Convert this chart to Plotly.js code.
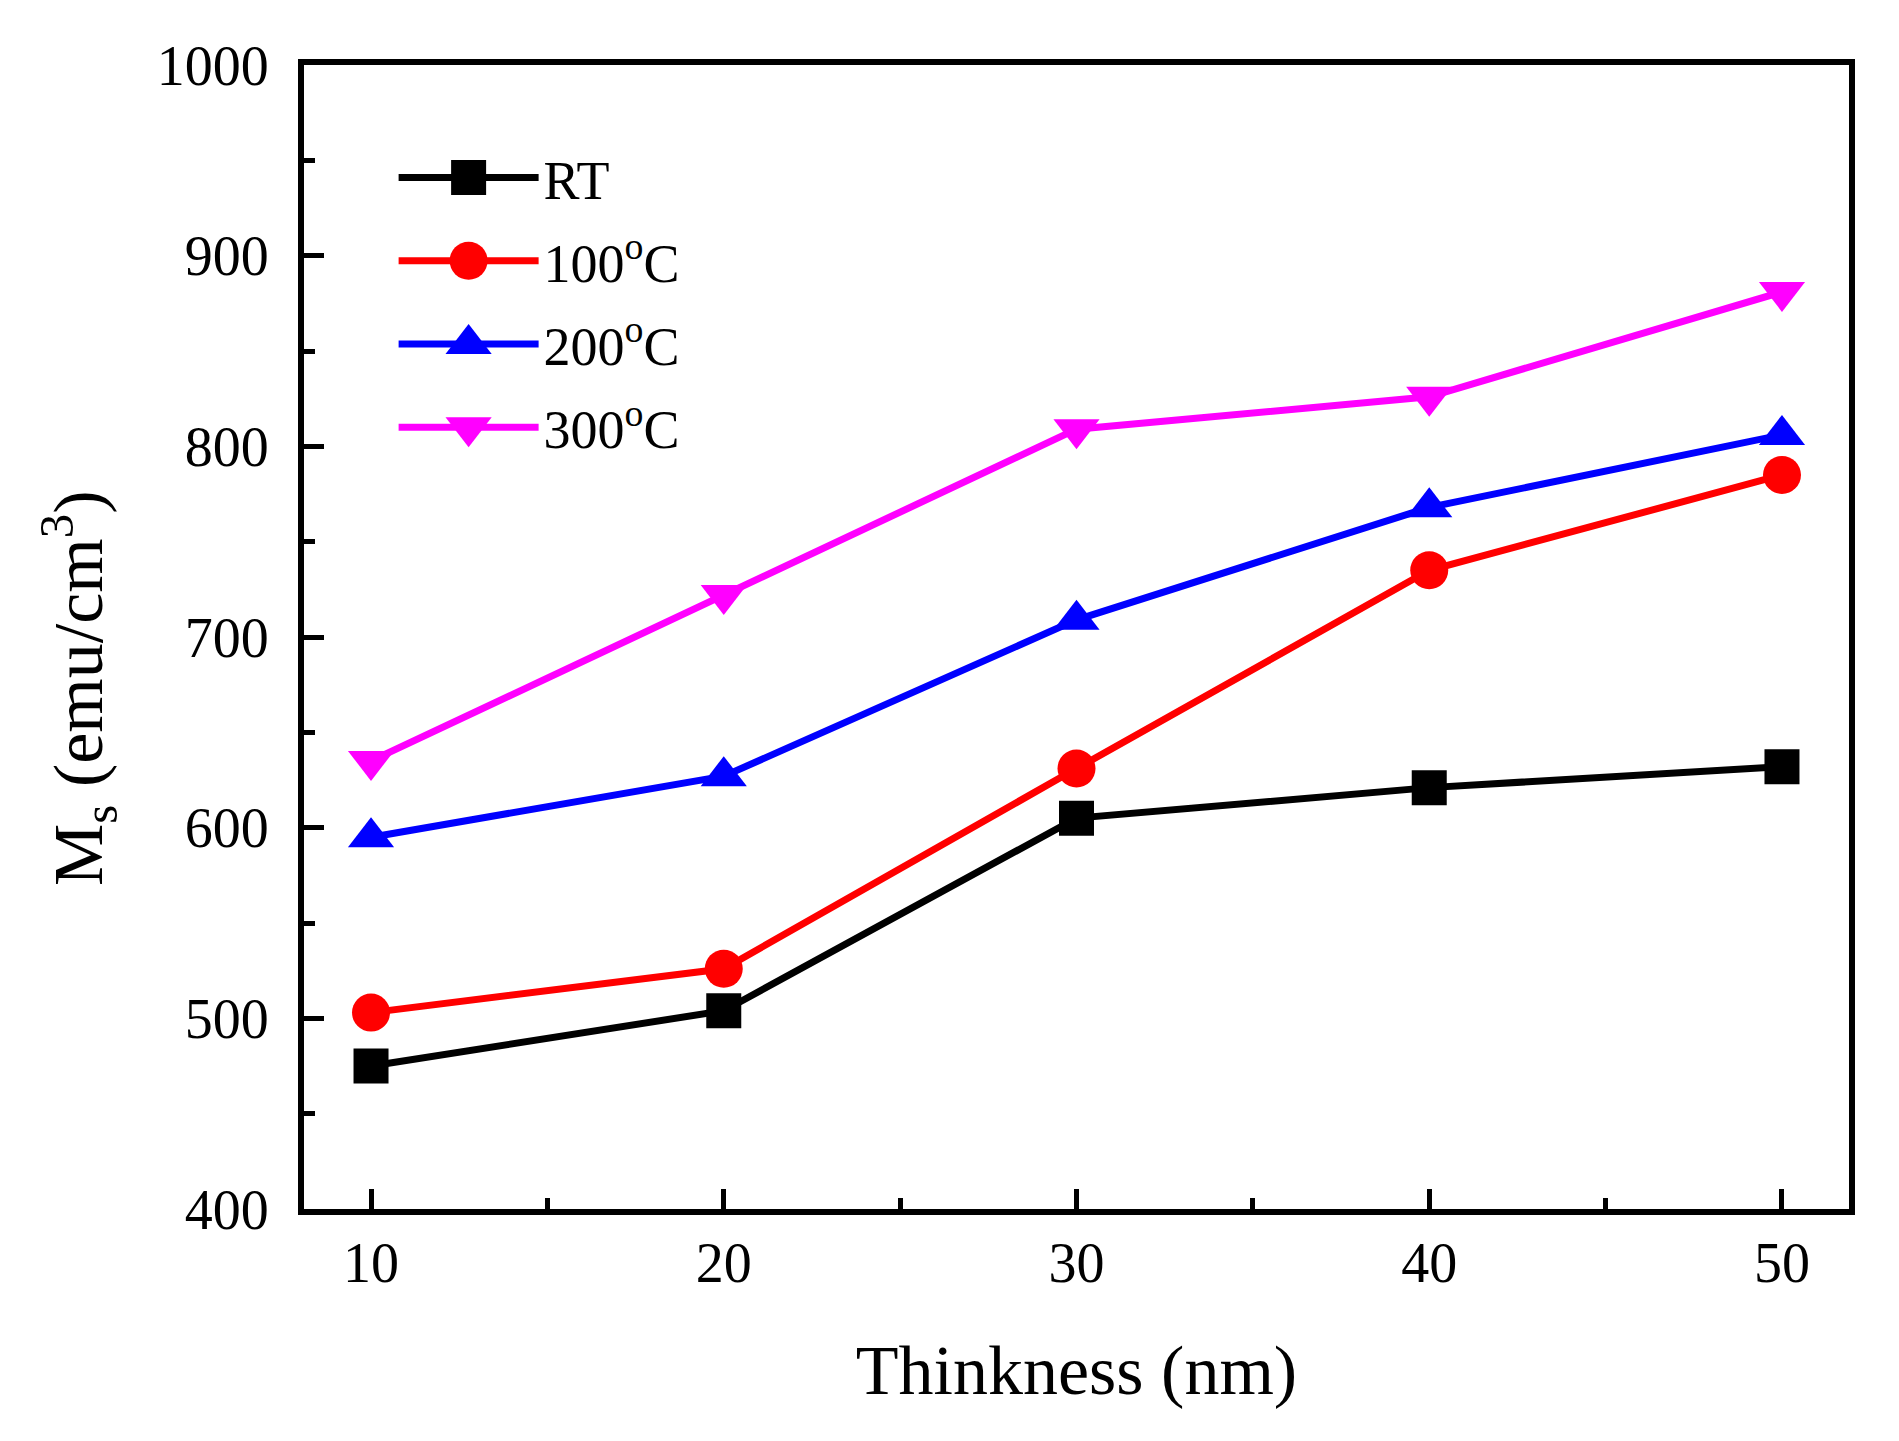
<!DOCTYPE html>
<html>
<head>
<meta charset="utf-8">
<script src="https://cdn.plot.ly/plotly-3.0.1.min.js"></script>
<style>
  html, body { margin: 0; padding: 0; background: #fff; }
  #chart { width: 1899px; height: 1441px; }
</style>
</head>
<body>
<div id="chart"></div>
<script>
// thickness (nm)
var thickness = [10, 20, 30, 40, 50];

// saturation magnetisation Ms (emu/cm3) per annealing temperature
var ms_rt = [475, 504, 605, 621, 632];
var ms_100 = [503, 526, 631, 735, 785];
var ms_200 = [595, 627, 709, 768, 806];
var ms_300 = [635, 722, 809, 826, 881];

var series_names = ['RT', '100<sup>o</sup>C', '200<sup>o</sup>C', '300<sup>o</sup>C'];
var series_values = [ms_rt, ms_100, ms_200, ms_300];
var series_colors = ['#000000', '#ff0000', '#0000ff', '#ff00ff'];
var series_symbols = ['square', 'circle', 'triangle-up', 'triangle-down'];
var series_sizes = [35, 38, 40, 40];

var font_family = '"Liberation Serif", "Times New Roman", serif';

var data = [];
for (i = 0; i < series_names.length; i++) {
    data.push({
        x: thickness,
        y: series_values[i],
        name: series_names[i],
        legendgroup: 'g' + i,
        type: 'scatter',
        mode: 'lines+markers',
        line: {color: series_colors[i], width: 7},
        marker: {
            color: series_colors[i],
            symbol: series_symbols[i],
            size: series_sizes[i],
            line: {width: 0}
        },
    });
}

var layout = {
    width: 1899,
    height: 1441,
    margin: {l: 304, r: 50, t: 65, b: 232, pad: 0},
    paper_bgcolor: '#ffffff',
    plot_bgcolor: '#ffffff',
    font: {family: font_family, color: '#000000', size: 56},
    showlegend: true,
    legend: {
        x: 0.058,
        xanchor: 'left',
        y: 0.938,
        yanchor: 'top',
        bgcolor: 'rgba(0,0,0,0)',
        font: {family: font_family, size: 54, color: '#000000'},
        itemwidth: 140,
        tracegroupgap: 10,
    },
    xaxis: {
        range: [8.1, 51.9],
        tickvals: thickness,
        ticktext: thickness.map(String),
        ticks: 'inside',
        ticklen: 20,
        tickwidth: 5,
        tickcolor: '#000000',
        ticklabelstandoff: 0,
        minor: {dtick: 5, tick0: 5, ticks: 'inside', ticklen: 11, tickwidth: 5, tickcolor: '#000000'},
        showline: true,
        linewidth: 6,
        linecolor: '#000000',
        mirror: true,
        showgrid: false,
        zeroline: false,
        tickfont: {family: font_family, size: 56},
        title: {
            text: 'Thinkness (nm)',
            font: {family: font_family, size: 70},
            standoff: 54
        },
    },
    yaxis: {
        range: [400, 1000],
        dtick: 100,
        tick0: 400,
        ticks: 'inside',
        ticklen: 20,
        tickwidth: 5,
        tickcolor: '#000000',
        ticklabelstandoff: 18,
        minor: {dtick: 50, tick0: 0, ticks: 'inside', ticklen: 11, tickwidth: 5, tickcolor: '#000000'},
        showline: true,
        linewidth: 6,
        linecolor: '#000000',
        mirror: true,
        showgrid: false,
        zeroline: false,
        tickfont: {family: font_family, size: 56},
    },
    annotations: [{
        // y title placed by hand, it sits a little below the middle in the original
        text: 'M<sub>s</sub> (emu/cm<sup>3</sup>)',
        xref: 'paper',
        yref: 'paper',
        x: -0.146,
        y: 0.455,
        xanchor: 'center',
        yanchor: 'middle',
        textangle: -90,
        showarrow: false,
        font: {family: font_family, size: 70, color: '#000000'},
    }],
};

Plotly.newPlot('chart', data, layout, {displayModeBar: false, staticPlot: true}).then(function (gd) {
    // legend symbols are capped by plotly, blow them up to the trace size
    var legend_items = gd.querySelectorAll('.legend .traces');
    for (i = 0; i < legend_items.length; i++) {
        var pts = legend_items[i].querySelectorAll('path.scatterpts');
        for (j = 0; j < pts.length; j++) {
            var t = pts[j].getAttribute('transform') || '';
            pts[j].setAttribute('transform', t + ' scale(' + (series_sizes[i] / 16) + ')');
        }
        var lines = legend_items[i].querySelectorAll('path.js-line');
        for (j = 0; j < lines.length; j++) {
            lines[j].style.strokeWidth = '7px';
        }
    }
});
</script>
</body>
</html>
